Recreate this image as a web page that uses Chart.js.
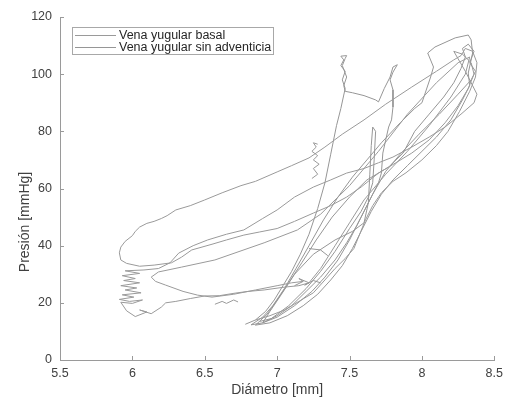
<!DOCTYPE html>
<html><head><meta charset="utf-8">
<script src="https://cdn.jsdelivr.net/npm/chart.js@4"></script>
<style>html,body{margin:0;padding:0;background:#fff}#wrap{width:509px;height:401px;position:relative}</style>
</head><body><div id="wrap"><canvas id="c"></canvas></div>
<script>
const seriesLabels = ['Vena yugular basal', 'Vena yugular sin adventicia'];
const xTitle = 'Diámetro [mm]';
const yTitle = 'Presión [mmHg]';
const xTicks = [5.5, 6, 6.5, 7, 7.5, 8, 8.5];
const yTicks = [0, 20, 40, 60, 80, 100, 120];

// [diámetro, presión]; null = pen lifted
const basal = [
 [6.85,14.0],[6.95,15.5],[7.05,17.5],[7.15,20.5],[7.25,23.5],[7.33,28],[7.40,32],[7.47,35.5],[7.53,39],[7.57,44],
 [7.61,49],[7.66,54],[7.72,58.5],[7.80,62.5],[7.89,65.5],[8.00,70],[8.10,75],[8.18,80],[8.26,87],[8.33,94],
 [8.37,99],[8.38,104],[8.35,108],[8.30,109],[8.27,106.5],[8.22,105],[8.10,101],[7.93,95.5],[7.75,89.5],[7.60,84],
 [7.45,79],[7.33,74.5],[7.22,70.7],[7.10,68],[7.00,65.8],[6.85,62.5],[6.75,61],[6.62,58.5],[6.50,56],[6.40,54],
 [6.30,52.5],[6.24,50.5],[6.20,49.5],[6.15,48.5],[6.10,47.8],[6.05,46.5],[6.02,45],[6.00,43.5],[5.95,41.5],[5.92,39.5],
 [5.91,37.5],[5.92,35],[5.96,33.8],[6.05,32.8],[6.15,33.2],[6.27,34],[6.34,36],[6.41,38.5],[6.55,40.5],[6.65,42],
 [6.77,43.7],[6.88,44.8],[7.00,46],[7.12,48.5],[7.25,51.4],[7.37,54],[7.48,57],[7.58,60.5],[7.70,65.4],[7.82,69],
 [7.93,72.4],[8.05,77],[8.16,83],[8.25,89],[8.32,95],[8.36,100],[8.34,104],[8.28,107],[8.22,108],[8.30,101],
 [8.38,93],[8.36,90],[8.27,86],[8.16,81.5],[8.05,78],[7.93,74.5],[7.80,71],[7.70,69],[7.60,67],[7.48,65.4],
 [7.37,63],[7.25,60.5],[7.12,57],[7.00,52.5],[6.90,49.5],[6.77,45.5],[6.65,44],[6.52,42],[6.42,40],[6.32,37.4],
 [6.26,34],[6.18,32],[6.08,31.5],[5.95,31.2],[6.05,30.3],[5.93,29.5],[6.02,28.5],[5.94,27.8],[6.05,27],[5.92,26],
 [6.03,25.2],[5.95,24.5],[6.06,23.5],[5.93,22.8],[6.01,22],[5.91,21.2],[5.98,20.5],[6.07,21],[6.00,19.8],[5.92,20.2],
 [5.96,17.2],[6.02,15.2],[6.10,16.8],[6.05,17.5],[6.13,16.2],[6.20,18.5],[6.23,20],[6.30,20.5],[6.40,21.5],[6.50,22.4],
 [6.60,22.5],[6.71,23.4],[6.80,24],[6.91,24.5],[7.05,25.5],[7.15,26],[7.22,27],[7.30,32],[7.40,40],[7.50,48],
 [7.60,56],[7.75,65],[7.90,73],[8.05,82],[8.20,92],[8.30,100],[8.33,106],[8.25,104],[8.10,97],[7.90,86],
 [7.70,73],[7.50,61],[7.30,51],[7.14,45.5],[6.91,41],[6.57,35],[6.34,32.5],[6.18,30.8],[6.13,29],[6.16,27.5],
 [6.23,26.2],[6.35,24],[6.45,22.7],[6.55,22],[6.70,23],[6.85,24.5],[7.00,26],[7.10,27],[7.18,27.5],
 null,
 [7.24,63.5],[7.28,65],[7.25,67],[7.29,68.5],[7.25,70],[7.28,71.5],[7.24,73],[7.27,74.5],[7.25,76],[7.28,75.5],
 null,
 [6.57,19.5],[6.62,20.5],[6.65,19.8],[6.70,21],[6.73,20.3]
];

const sinAdventicia = [
 [6.78,12.5],[6.85,14],[6.92,17],[6.98,21],[7.04,26],[7.10,31],[7.16,37],[7.22,44],[7.28,53],[7.33,62],
 [7.37,72],[7.41,82],[7.44,88],[7.46,92.7],[7.47,95],[7.45,98],[7.47,101],[7.44,103],[7.46,105],
 [7.44,106.3],[7.48,106.5],[7.47,105.5],[7.45,103],[7.48,99],[7.46,96],[7.47,94],[7.52,93.5],[7.60,92.5],[7.68,91],
 [7.70,90.3],[7.74,95],[7.78,99],[7.80,102.5],[7.83,103.3],[7.80,100.7],[7.78,98],[7.80,94.5],[7.80,88.5],[7.79,84],
 [7.77,81.5],[7.75,77],[7.73,72.4],[7.72,65.4],[7.70,62],[7.62,54],[7.55,47],[7.48,41],[7.40,35],[7.30,29],
 [7.20,24],[7.10,19],[7.00,15.5],[6.90,13],[6.82,12.3],
 [6.90,15],[6.97,19],[7.05,25],[7.13,32],[7.22,40],[7.32,49],[7.42,57],[7.52,64],[7.62,70],[7.72,76],
 [7.85,83],[7.95,88],[8.00,90],[8.06,99],[8.08,102.5],[8.04,107.4],[8.09,109.5],[8.23,112.7],[8.32,113.7],[8.34,112],
 [8.35,107.4],[8.32,100.4],[8.33,96],[8.28,91],[8.20,84],[8.10,78],[8.00,73],[7.90,68],[7.80,63],[7.72,58],
 [7.65,52],[7.58,45],[7.52,39],[7.45,33],[7.37,28],[7.28,23],[7.18,19],[7.07,15.5],[6.95,13],[6.85,12.2],
 [6.93,16],[7.00,21],[7.08,27],[7.17,34],[7.27,42],[7.38,50],[7.50,57],[7.62,63],[7.77,67.5],[7.87,72.4],
 [7.95,80],[8.05,86],[8.15,92],[8.22,97],[8.27,102],[8.30,106],[8.28,109],[8.32,110.5],[8.36,108],[8.33,104],
 [8.37,101],[8.34,98],[8.25,93],[8.12,86],[7.98,79],[7.85,72],[7.75,66],[7.66,58],[7.58,50],[7.50,42],
 [7.42,35],[7.33,29],[7.24,24],[7.12,19],[7.00,15],[6.90,13],
 [6.95,17],[7.03,23],[7.12,30],[7.25,37],[7.40,42],[7.52,45],[7.60,48],[7.63,55],[7.64,65],[7.65,75],
 [7.66,81.5],[7.68,80],[7.67,70],[7.66,62],[7.63,57],[7.58,52],[7.50,46],[7.40,38],[7.30,31],[7.20,25],
 [7.08,19],[6.96,14.5],[6.88,13.5],
 null,
 [7.12,26],[7.18,27.5],[7.15,28.5],[7.22,27],[7.19,26.2],[7.25,27.8],[7.30,27],
 null,
 [7.22,39],[7.30,38.5],[7.35,36.5]
];

const toPoints = a => a.map(p => p ? {x: p[0], y: p[1]} : {x: null, y: null});
const FONT = '"Liberation Sans", Arial, Helvetica, sans-serif';
const lineColors = ['#9a9a9a', '#969696'];

const decor = {
  id: 'decor',
  afterDatasetsDraw(chart) {
    const ctx = chart.ctx, ca = chart.chartArea;
    const xs = chart.scales.x, ys = chart.scales.y;
    ctx.save();
    ctx.strokeStyle = '#9a9a9a'; ctx.lineWidth = 1;
    ctx.beginPath();
    xTicks.forEach(v => { const px = Math.round(xs.getPixelForValue(v)) + 0.5; ctx.moveTo(px, ca.bottom); ctx.lineTo(px, ca.bottom - 4); });
    yTicks.forEach(v => { const py = Math.round(ys.getPixelForValue(v)) + 0.5; ctx.moveTo(ca.left, py); ctx.lineTo(ca.left + 4, py); });
    ctx.stroke();
    // axis titles
    ctx.fillStyle = '#404040';
    ctx.font = '14px ' + FONT;
    ctx.textAlign = 'center'; ctx.textBaseline = 'middle';
    ctx.fillText(xTitle, (ca.left + ca.right) / 2, 390);
    ctx.translate(25, 222);
    ctx.rotate(-Math.PI / 2);
    ctx.fillText(yTitle, 0, 0);
    ctx.restore();
    // legend
    ctx.save();
    ctx.fillStyle = '#fff';
    ctx.fillRect(72.5, 27.5, 201, 27);
    ctx.strokeStyle = '#a8a8a8'; ctx.lineWidth = 1;
    ctx.strokeRect(72.5, 27.5, 201, 27);
    ctx.font = '12.5px ' + FONT; ctx.textAlign = 'left'; ctx.textBaseline = 'middle';
    chart.data.datasets.forEach((ds, i) => {
      const y = 35.5 + i * 12;
      ctx.strokeStyle = ds.borderColor;
      ctx.beginPath(); ctx.moveTo(75, y); ctx.lineTo(116, y); ctx.stroke();
      ctx.fillStyle = '#262626';
      ctx.fillText(ds.label, 119, y + 0.5);
    });
    ctx.restore();
  }
};

new Chart(document.getElementById('c'), {
  type: 'scatter',
  data: {
    datasets: [
      {label: seriesLabels[0], data: toPoints(basal), showLine: true, borderColor: lineColors[0], borderWidth: 1, pointRadius: 0, spanGaps: false, tension: 0},
      {label: seriesLabels[1], data: toPoints(sinAdventicia), showLine: true, borderColor: lineColors[1], borderWidth: 1, pointRadius: 0, spanGaps: false, tension: 0}
    ]
  },
  options: {
    responsive: true, maintainAspectRatio: false, animation: false,
    devicePixelRatio: 1,
    layout: {padding: {top: 17, right: 9, left: 0, bottom: 0}},
    plugins: {legend: {display: false}, tooltip: {enabled: false}},
    scales: {
      x: {
        type: 'linear', min: 5.5, max: 8.5,
        afterBuildTicks: s => { s.ticks = xTicks.map(v => ({value: v})); },
        ticks: {callback: v => String(v), font: {family: FONT, size: 12.5}, color: '#404040', padding: 6, maxRotation: 0, autoSkip: false},
        grid: {display: true, drawOnChartArea: false, drawTicks: false},
        border: {display: true, color: '#9a9a9a', width: 1},
        afterFit: s => { s.height = 41; }
      },
      y: {
        type: 'linear', min: 0, max: 120,
        afterBuildTicks: s => { s.ticks = yTicks.map(v => ({value: v})); },
        ticks: {callback: v => String(v), font: {family: FONT, size: 12.5}, color: '#404040', padding: 8, autoSkip: false},
        grid: {display: true, drawOnChartArea: false, drawTicks: false},
        border: {display: true, color: '#9a9a9a', width: 1},
        afterFit: s => { s.width = 60; }
      }
    }
  },
  plugins: [decor]
});
</script></body></html>
